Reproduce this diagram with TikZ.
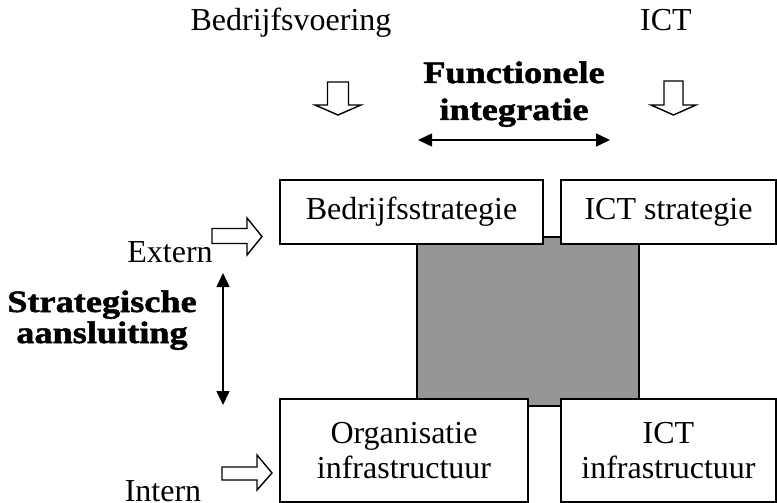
\documentclass[tikz,border=0pt]{standalone}
\usepackage{fontspec}
\setmainfont{Liberation Serif}
\newfontfamily\boldwide[FakeStretch=1.17,FakeBold=1.6]{Liberation Serif Bold}
\usetikzlibrary{arrows.meta}
\tikzset{
  lbl/.style={font=\fontsize{32}{36}\selectfont, inner sep=0pt, anchor=base},
  blbl/.style={font=\fontsize{31}{36}\boldwide, inner sep=0pt, anchor=base},
  boxnode/.style={draw, line width=1.6pt, fill=white, inner sep=0pt, align=center,
     font=\fontsize{32}{35.5}\selectfont},
  blockarrow/.style={draw, line width=1.4pt, fill=white, line join=miter},
  dbl/.style={line width=1.5pt, {Triangle[length=14pt,width=13pt]}-{Triangle[length=14pt,width=13pt]}},
}
\begin{document}
\begin{tikzpicture}[x=1pt,y=-1pt]
\useasboundingbox (0,0) rectangle (777,503);
% central gray square
\node[draw, line width=1.5pt, fill=black!41, minimum width=222pt, minimum height=169pt, inner sep=0pt] (core) at (528,321.5) {};
% boxes
\node[boxnode, minimum width=263pt, minimum height=64pt] (bs) at (411.5,212) {Bedrijfsstrategie};
\node[boxnode, minimum width=215pt, minimum height=64pt] (is) at (668.5,212) {ICT strategie};
\node[boxnode, minimum width=248pt, minimum height=103pt] (oi) at (404,450.5) {Organisatie\\infrastructuur};
\node[boxnode, minimum width=215pt, minimum height=103pt] (ii) at (668.5,450.5) {ICT\\infrastructuur};
% top labels
\node[lbl] (bv) at (291,31) {Bedrijfsvoering};
\node[lbl] (ict) at (666,31) {ICT};
\node[blbl] (fi1) at (514,83) {Functionele};
\node[blbl] (fi2) at (514,120) {integratie};
\node[blbl] (sa1) at (102,312) {Strategische};
\node[blbl] (sa2) at (102,343) {aansluiting};
\node[lbl] (ext) at (170,262) {Extern};
\node[lbl] (int) at (163,501) {Intern};
% double arrows
\coordinate (hl) at (418,140);
\coordinate (hr) at (610,140);
\draw[dbl] (hl) -- (hr);
\coordinate (vt) at (223,273);
\coordinate (vb) at (223,405);
\draw[dbl] (vt) -- (vb);
% block arrows down
\draw[blockarrow] (327.5,82) -- (348.5,82) -- (348.5,105) -- (361,105) -- (338,115) -- (315,105) -- (327.5,105) -- cycle;
\draw[blockarrow] (664,81) -- (683,81) -- (683,105) -- (696,105) -- (673.5,115) -- (651,105) -- (664,105) -- cycle;
% block arrows right
\draw[blockarrow] (212,228.5) -- (247,228.5) -- (247,218) -- (262,236.5) -- (247,255) -- (247,243.5) -- (212,243.5) -- cycle;
\draw[blockarrow] (222,467) -- (257,467) -- (257,455) -- (272,473) -- (257,490) -- (257,480) -- (222,480) -- cycle;
\end{tikzpicture}
\end{document}
